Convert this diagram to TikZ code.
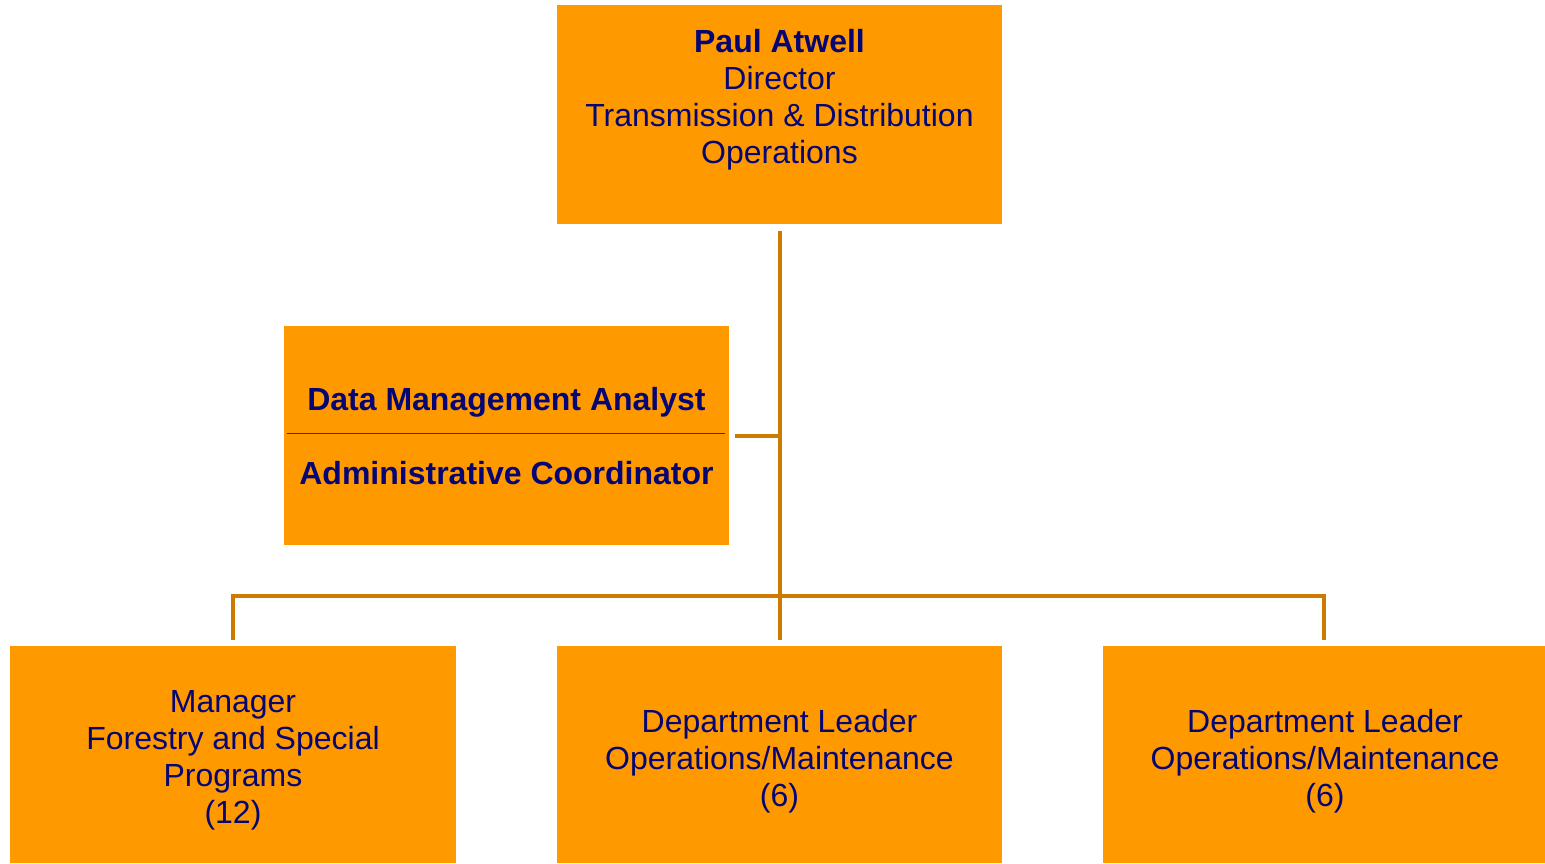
\documentclass[tikz,border=0pt]{standalone}
\usepackage{fontspec}
\setmainfont{Liberation Sans}
\definecolor{boxfill}{RGB}{255,153,0}
\definecolor{linkcol}{RGB}{204,122,0}
\definecolor{navytext}{RGB}{5,5,115}
\definecolor{sepcol}{RGB}{60,50,60}
\tikzset{
  orgbox/.style={rectangle, fill=boxfill, draw=none, inner sep=0pt},
  orgtext/.style={text=navytext, align=center, inner sep=0pt, font=\fontsize{32}{37}\selectfont},
  link/.style={draw=linkcol, line width=4pt, line join=miter, line cap=butt}
}
\begin{document}
\begin{tikzpicture}[x=1pt, y=-1pt]
\useasboundingbox (0,0) rectangle (1545,863);
% boxes
\node[orgbox, minimum width=445pt, minimum height=219pt] (top) at (779.5,114.5) {};
\node[orgbox, minimum width=445pt, minimum height=219pt] (side) at (506.5,435.5) {};
\node[orgbox, minimum width=446pt, minimum height=217pt] (bl) at (233,754.5) {};
\node[orgbox, minimum width=445pt, minimum height=217pt] (bm) at (779.5,754.5) {};
\node[orgbox, minimum width=442pt, minimum height=217pt] (br) at (1324,754.5) {};
% texts
\node[orgtext] (ttop) at (779.5,100) {\textbf{Paul Atwell}\\Director\\Transmission \& Distribution\\Operations};
\node[orgtext, anchor=base] (tside1) at (506.5,410) {\textbf{Data Management Analyst}};
\node[orgtext, anchor=base] (tside2) at (506.5,484) {\textbf{Administrative Coordinator}};
\draw[sepcol, line width=1pt] ([xshift=3pt]side.west |- 0,433) coordinate (sepL) -- ([xshift=-4pt]side.east |- 0,433) coordinate (sepR);
\node[orgtext] (tbl) at (233,760.5) {Manager\\Forestry and Special\\Programs\\(12)};
\node[orgtext] (tbm) at (779.5,761) {Department Leader\\Operations/Maintenance\\(6)};
\node[orgtext] (tbr) at (1325,761) {Department Leader\\Operations/Maintenance\\(6)};
% connectors
\coordinate (trunktop) at ([yshift=-7pt]top.south);
\coordinate (jside) at (trunktop |- side.east);
\coordinate (jbus) at (trunktop |- 0,596);
\draw[link] (trunktop) -- ([yshift=6pt]bm.north);
\draw[link] ([xshift=6pt]side.east) -- (jside);
\draw[link] ([yshift=6pt]bl.north) -- (bl.north |- jbus) -- (br.north |- jbus) -- ([yshift=6pt]br.north);
\end{tikzpicture}
\end{document}
